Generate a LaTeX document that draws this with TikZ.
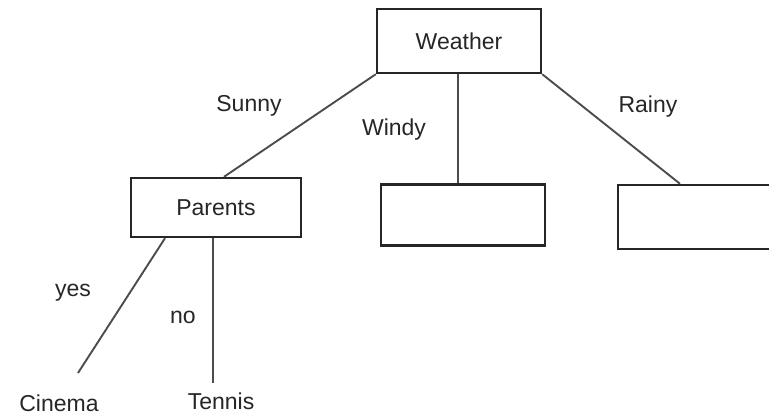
\documentclass[tikz,border=0pt]{standalone}
\usepackage{fontspec}
\setmainfont{Liberation Sans}
\begin{document}
\begin{tikzpicture}[x=1pt,y=-1pt,
  box/.style={draw=black!85,line width=2.4pt,fill=white,inner sep=0pt},
  edge/.style={draw=black!70,line width=1.9pt},
  lbl/.style={font=\fontsize{23}{26}\selectfont,text=black!85,inner sep=0pt}]
  \useasboundingbox (0,0) rectangle (769,417);
  % decision nodes
  \node[box,minimum width=164pt,minimum height=64pt] (weather) at (459,41) {};
  \node[lbl] at (weather) {Weather};
  \node[box,minimum width=170pt,minimum height=59pt] (parents) at (216,207.5) {};
  \node[lbl] at (parents) {Parents};
  \node[box,minimum width=164pt,minimum height=61pt] (windy) at (463,215) {};
  \node[box,minimum width=170pt,minimum height=64pt,anchor=west] (rainy) at (617,217) {};
  % leaves
  \node[lbl] (cinema) at (59,403) {Cinema};
  \node[lbl] (tennis) at (221,401) {Tennis};
  \coordinate (cinemaTop) at (78,373);
  \coordinate (tennisTop) at (213,383);
  % branches
  \draw[edge] (weather.south west) -- (parents.north -| 224,0);
  \draw[edge] (weather.south -| 458,0) -- (windy.north -| 458,0);
  \draw[edge] (weather.south east) -- (rainy.north -| 680,0);
  \draw[edge] (parents.south -| 165,0) -- (cinemaTop);
  \draw[edge] (parents.south -| 213,0) -- (tennisTop);
  % branch labels
  \node[lbl] at (249,106) {Sunny};
  \node[lbl] at (394,130) {Windy};
  \node[lbl] at (648,107) {Rainy};
  \node[lbl] at (73,293) {yes};
  \node[lbl] at (183,317) {no};
\end{tikzpicture}
\end{document}
